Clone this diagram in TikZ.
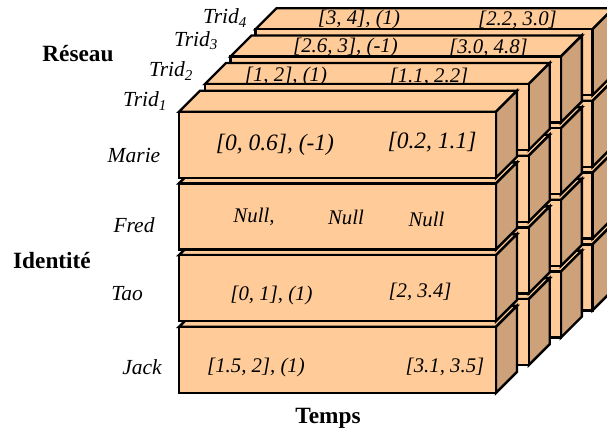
\documentclass[tikz,border=0pt]{standalone}
\usepackage{fontspec}
\setmainfont{Liberation Serif}
\definecolor{frontcol}{RGB}{255,204,153}
\definecolor{sidecol}{RGB}{205,161,122}
\tikzset{
  face/.style={draw=black,line width=2.4pt,line join=miter},
  frontface/.style={face,fill=frontcol},
  sideface/.style={face,fill=sidecol},
  celltxt/.style={font=\fontsize{20.8}{24}\selectfont\itshape,inner sep=0pt},
  bigtxt/.style={font=\fontsize{23.5}{27}\selectfont\itshape,inner sep=0pt},
  nametxt/.style={font=\fontsize{21.5}{25}\selectfont\itshape,inner sep=0pt},
  axistxt/.style={font=\fontsize{23.3}{27}\selectfont\bfseries,inner sep=0pt},
}
\newcommand\cellbox[4]{%
  \filldraw[frontface] (#1,#2) -- ++(21,-21) -- ++(#3,0) -- ++(-21,21) -- cycle;
  \filldraw[sideface] (#1+#3,#2) -- ++(21,-21) -- ++(0,#4) -- ++(-21,21) -- cycle;
  \filldraw[frontface] (#1,#2) rectangle ++(#3,#4);
}
\newcommand\cubelayer[3]{%
  \foreach \i in {3,2,1,0} {\cellbox{#1}{#2+71.7*\i}{#3}{66}}%
}
\begin{document}
\begin{tikzpicture}[x=1pt,y=-1pt]
\useasboundingbox (0,0) rectangle (607,432);
\clip (0,0) rectangle (607,432);
% layer 4
\cubelayer{255.5}{29.2}{337}
\begin{scope}
  \clip (0,0) rectangle (607,27.8);
  \node[celltxt] (l4a) at (359,19.5) {[3, 4], (1)};
  \node[celltxt] (l4b) at (517.5,19.5) {[2.2, 3.0]};
\end{scope}
% layer 3
\cubelayer{230.5}{56.5}{330.4}
\begin{scope}
  \clip (0,20) rectangle (607,55.1);
  \node[celltxt] (l3a) at (345.5,47.5) {[2.6, 3], (-1)};
  \node[celltxt] (l3b) at (488.5,47.5) {[3.0, 4.8]};
\end{scope}
% layer 2
\cubelayer{205}{84}{323.7}
\begin{scope}
  \clip (0,50) rectangle (607,82.6);
  \node[celltxt] (l2a) at (286,76.5) {[1, 2], (1)};
  \node[celltxt] (l2b) at (429,76.5) {[1.1, 2.2]};
\end{scope}
% layer 1
\cubelayer{179}{111.7}{317}
\node[bigtxt] (m1) at (275,145) {[0, 0.6], (-1)};
\node[bigtxt] (m2) at (432,142) {[0.2, 1.1]};
\node[celltxt] (f1) at (254,217) {Null,};
\node[celltxt] (f2) at (346,217) {Null};
\node[celltxt] (f3) at (426.5,219) {Null};
\node[celltxt] (t1) at (271.5,295) {[0, 1], (1)};
\node[celltxt] (t2) at (420,292) {[2, 3.4]};
\node[celltxt] (j1) at (256,367.5) {[1.5, 2], (1)};
\node[celltxt] (j2) at (445,367) {[3.1, 3.5]};
% labels
\node[nametxt] (trid1) at (145,101) {Trid\textsubscript{1}};
\node[nametxt] (trid2) at (171,71) {Trid\textsubscript{2}};
\node[nametxt] (trid3) at (196,41) {Trid\textsubscript{3}};
\node[nametxt] (trid4) at (225,18) {Trid\textsubscript{4}};
\node[nametxt] (marie) at (134,155) {Marie};
\node[nametxt] (fred) at (134,225) {Fred};
\node[nametxt] (tao) at (127,294) {Tao};
\node[nametxt] (jack) at (142,367) {Jack};
\node[axistxt] (reseau) at (78,54) {Réseau};
\node[axistxt] (identite) at (52,261) {Identité};
\node[axistxt] (temps) at (328,418) {Temps};
\end{tikzpicture}
\end{document}
